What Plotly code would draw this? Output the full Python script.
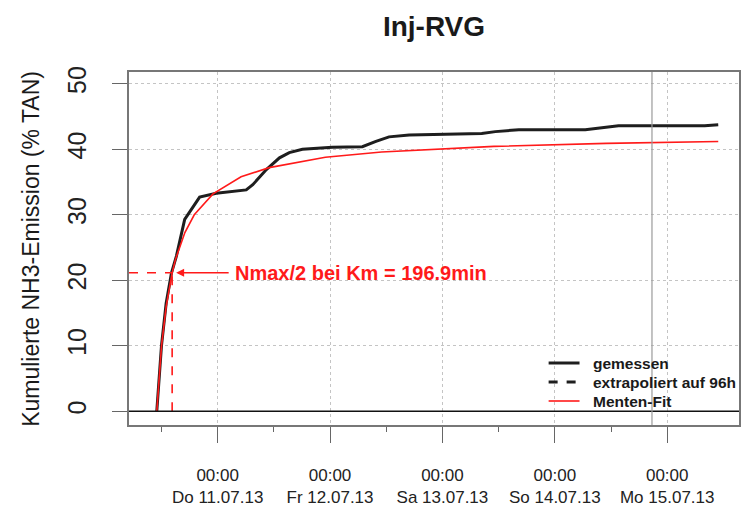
import pandas as pd
import plotly.graph_objects as go

# Start of the measurement (slurry injection) and derived time axis
START = pd.Timestamp("2013-07-10 11:00")

# Measured cumulative NH3 emission: hours after start, % of TAN
meas_hours = [0.0, 1.0, 2.0, 3.13, 4.19, 5.96, 9.15, 12.7, 19.1, 20.5, 23.4, 26.2, 28.3,
              31.1, 37.5, 43.9, 46.8, 49.6, 53.9, 69.4, 72.3, 77.3, 91.5, 94.3, 98.6,
              105.6, 117.0, 119.9]
meas_vals = [0.0, 10.0, 16.5, 21.1, 23.7, 29.3, 32.7, 33.3, 33.8, 34.6, 36.9, 38.7, 39.5,
             40.0, 40.3, 40.4, 41.2, 41.9, 42.2, 42.4, 42.7, 43.0, 43.0, 43.2, 43.6,
             43.6, 43.6, 43.75]

# Michaelis-Menten fit curve
fit_hours = [0.0, 0.5, 1.0, 2.0, 3.28, 4.0, 6.0, 8.0, 12.0, 18.0, 24.0, 36.0, 48.0,
             72.0, 96.0, 119.9]
fit_vals = [0.0, 5.6, 9.9, 16.0, 21.15, 23.2, 27.3, 30.0, 33.2, 35.8, 37.2, 38.8, 39.6,
            40.45, 40.9, 41.2]

# Fit parameters shown in the annotation
KM_MIN = 196.9
NMAX_HALF = 21.15

# Axis settings
X_RANGE = ["2013-07-10 05:04", "2013-07-15 15:20"]
MARK_TIME = "2013-07-14 20:45"
day_ticks = ["2013-07-11", "2013-07-12", "2013-07-13", "2013-07-14", "2013-07-15"]
day_labels = ["Do 11.07.13", "Fr 12.07.13", "Sa 13.07.13", "So 14.07.13", "Mo 15.07.13"]
noon_ticks = ["2013-07-10 12:00", "2013-07-11 12:00", "2013-07-12 12:00",
              "2013-07-13 12:00", "2013-07-14 12:00"]
y_ticks = [0, 10, 20, 30, 40, 50]

# Legend entries: label, colour, width, dash
legend_items = [("gemessen", "#1e1e1e", 3.0, "solid"),
                ("extrapoliert auf 96h", "#1e1e1e", 3.0, "dash"),
                ("Menten-Fit", "#ff1a1a", 1.6, "solid")]

FONT = "Liberation Sans, Arial, sans-serif"
RED = "#ff1a1a"

# Plot-area geometry in pixels, used to place the legend
W, H = 742, 511
L, R, T, B = 129, 1, 72, 86
PW, PH = W - L - R, H - T - B


def to_time(hours):
    return [START + pd.Timedelta(hours=h) for h in hours]


def px_x(px):
    return (px - L) / PW


def px_y(py):
    return (H - B - py) / PH


km_time = START + pd.Timedelta(minutes=KM_MIN)

fig = go.Figure()

fig.add_trace(go.Scatter(x=to_time(meas_hours), y=meas_vals, mode="lines", name="gemessen",
                         showlegend=False, line=dict(color="#1e1e1e", width=3.0)))
fig.add_trace(go.Scatter(x=to_time(fit_hours), y=fit_vals, mode="lines", name="Menten-Fit",
                         showlegend=False, line=dict(color=RED, width=1.6)))

# Km guide lines
fig.add_trace(go.Scatter(x=[X_RANGE[0], km_time], y=[NMAX_HALF, NMAX_HALF], mode="lines",
                         showlegend=False, line=dict(color=RED, width=1.6, dash="dash")))
fig.add_trace(go.Scatter(x=[km_time, km_time], y=[0, NMAX_HALF], mode="lines",
                         showlegend=False, line=dict(color=RED, width=1.6, dash="dash")))

# Zero line and vertical marker
fig.add_shape(type="line", xref="paper", x0=0, x1=1, yref="y", y0=0, y1=0,
              line=dict(color="#111111", width=1.5))
fig.add_shape(type="line", xref="x", x0=MARK_TIME, x1=MARK_TIME, yref="paper", y0=0, y1=1,
              line=dict(color="#9a9a9a", width=1.2))

# Legend drawn as line samples plus bold labels
for i, (label, color, width, dash) in enumerate(legend_items):
    row_y = 363 + 19 * i
    fig.add_shape(type="line", xref="paper", yref="paper",
                  x0=px_x(550), x1=px_x(581), y0=px_y(row_y), y1=px_y(row_y),
                  line=dict(color=color, width=width, dash=dash))
    fig.add_annotation(x=px_x(593), y=px_y(row_y), xref="paper", yref="paper",
                       xanchor="left", yanchor="middle", showarrow=False,
                       text="<b>%s</b>" % label,
                       font=dict(family=FONT, size=15.5, color="#1a1a1a"))

# Arrow and label for Km
fig.add_annotation(x=km_time, y=NMAX_HALF, xref="x", yref="y", text="", showarrow=True,
                   ax=58, ay=0, arrowhead=2, arrowsize=1, arrowwidth=1.6, arrowcolor=RED,
                   standoff=4)
fig.add_annotation(x=0.170, y=NMAX_HALF, xref="paper", yref="y", xanchor="left",
                   yanchor="middle", showarrow=False,
                   text="<b>Nmax/2 bei Km = %.1fmin</b>" % KM_MIN,
                   font=dict(family=FONT, size=20, color=RED))

# Y axis title
fig.add_annotation(x=px_x(30), y=0.5, xref="paper", yref="paper", textangle=-90,
                   showarrow=False, xanchor="center", yanchor="middle",
                   text="Kumulierte NH3-Emission (% TAN)",
                   font=dict(family=FONT, size=23, color="#1a1a1a"))

fig.update_layout(
    width=W, height=H,
    margin=dict(l=L, r=R, t=T, b=B),
    paper_bgcolor="white", plot_bgcolor="white",
    title=dict(text="<b>Inj-RVG</b>", x=0.5, xref="paper", xanchor="center",
               y=1 - 26 / H, yanchor="middle",
               font=dict(family=FONT, size=28, color="#1a1a1a")),
    showlegend=False,
    font=dict(family=FONT, color="#1a1a1a"),
)

fig.update_xaxes(
    type="date", range=X_RANGE,
    tickmode="array", tickvals=day_ticks,
    ticktext=["00:00<br>" + s for s in day_labels],
    ticks="outside", ticklen=16, tickwidth=1.2, tickcolor="#666666",
    tickfont=dict(family=FONT, size=17, color="#222222"),
    ticklabelstandoff=18,
    showline=True, mirror=True, linecolor="#777777", linewidth=1.5,
    showgrid=True, gridcolor="#c4c4c4", griddash="dot", gridwidth=1,
    zeroline=False,
    minor=dict(tickmode="array", tickvals=noon_ticks, ticks="outside", ticklen=5,
               tickwidth=1.2, tickcolor="#666666", showgrid=False),
)

fig.update_yaxes(
    range=[-2.08, 51.8], tickmode="array", tickvals=y_ticks,
    ticktext=[str(v) for v in y_ticks],
    tickangle=-90,
    ticks="outside", ticklen=15, tickwidth=1.2, tickcolor="#666666",
    tickfont=dict(family=FONT, size=25, color="#222222"),
    ticklabelstandoff=16,
    showline=True, mirror=True, linecolor="#777777", linewidth=1.5,
    showgrid=True, gridcolor="#c4c4c4", griddash="dot", gridwidth=1,
    zeroline=False,
)

fig.write_html("out.html")
